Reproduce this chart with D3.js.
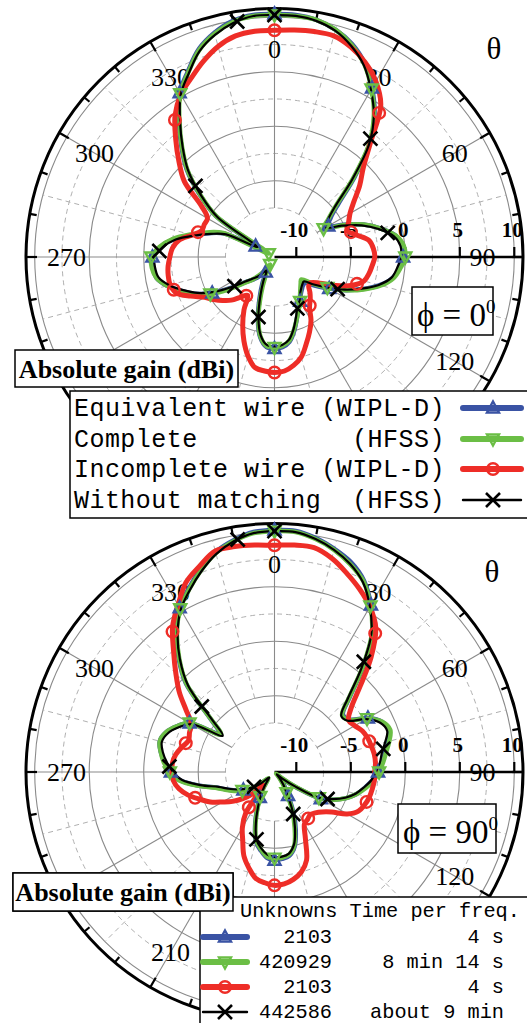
<!DOCTYPE html>
<html><head><meta charset="utf-8">
<script src="https://cdn.jsdelivr.net/npm/d3@7"></script>
<style>body{margin:0;background:#fff}svg{display:block}</style>
</head><body>
<svg id="chart" width="527" height="1023"></svg>
<script>
// ---------------- data ----------------
const angles = d3.range(0, 360, 5); // theta (deg), 0..355
const radialTicks = [-10, -5, 0, 5, 10];
const angleLabels = d3.range(0, 360, 30);

// phi = 0 cut (gain in dBi)
const top_equiv = [
  10.3, 10.3, 10.1, 9.6, 8.8, 7.6, 5.9, 4.0, 1.6, -1.6, -4.3, -5.7,
  -6.3, -5.0, -3.3, -1.9, -0.7, -0.2, -0.2, -0.5, -1.0, -2.0, -3.4, -4.8,
  -6.2, -7.4, -8.3, -8.3, -8.1, -7.8, -7.3, -6.8, -6.0, -5.0, -4.1, -3.7,
  -3.6, -3.7, -4.5, -6.1, -8.0, -9.4, -10.4, -10.1, -9.5, -9.0, -8.3, -7.0,
  -5.4, -4.0, -2.9, -1.8, -1.0, -0.8, -0.8, -1.5, -2.6, -4.2, -5.6, -6.9,
  -10.0, -5.4, -3.0, -0.6, 1.3, 3.3, 5.4, 6.8, 8.3, 9.3, 10.0, 10.3];
const top_complete = [
  10.2, 10.2, 10.1, 9.6, 8.7, 7.5, 5.8, 3.9, 1.5, -1.8, -4.6, -6.0,
  -6.8, -5.1, -3.3, -1.9, -0.7, -0.1, 0.0, -0.4, -0.9, -1.9, -3.3, -4.8,
  -6.4, -7.8, -8.8, -8.6, -8.3, -7.9, -7.3, -6.8, -6.0, -5.1, -4.2, -3.8,
  -3.7, -3.8, -4.6, -6.3, -8.4, -10.0, -11.2, -10.6, -9.8, -9.0, -8.2, -6.8,
  -5.2, -3.9, -2.8, -1.8, -1.0, -0.7, -0.7, -1.4, -2.5, -4.0, -5.4, -6.8,
  -11.4, -5.5, -3.1, -0.7, 1.2, 3.2, 5.3, 6.7, 8.2, 9.2, 9.9, 10.2];
const top_incomplete = [
  8.8, 8.9, 9.0, 9.0, 8.5, 7.7, 6.6, 5.0, 1.7, -0.5, -1.8, -3.1,
  -4.0, -4.5, -4.9, -4.2, -3.2, -2.9, -2.8, -3.0, -3.2, -3.5, -4.4, -5.8,
  -7.2, -7.9, -7.9, -7.4, -6.9, -6.4, -5.3, -4.4, -3.5, -2.5, -1.9, -1.5,
  -1.4, -1.5, -1.7, -2.6, -3.8, -5.1, -6.4, -7.7, -7.2, -6.4, -5.8, -5.2,
  -4.6, -3.5, -2.4, -2.1, -2.1, -2.2, -2.4, -2.6, -3.1, -4.2, -4.9, -4.9,
  -4.9, -3.8, -1.2, 0.4, 2.1, 3.9, 5.2, 6.1, 7.1, 8.0, 8.6, 8.8];
const top_nomatch = [
  10.2, 10.2, 10.0, 9.5, 8.6, 7.4, 5.7, 3.9, 1.5, -1.9, -4.7, -6.0,
  -6.6, -5.2, -3.5, -2.1, -0.9, -0.4, -0.4, -0.7, -1.1, -2.1, -3.5, -4.9,
  -6.4, -7.6, -8.5, -8.4, -8.2, -7.9, -7.4, -7.0, -6.2, -5.2, -4.3, -3.9,
  -3.8, -3.9, -4.7, -6.3, -8.2, -9.6, -10.6, -10.3, -9.7, -9.2, -8.5, -7.2,
  -5.6, -4.2, -3.1, -2.0, -1.2, -1.0, -1.0, -1.7, -2.8, -4.4, -5.8, -7.1,
  -10.2, -5.6, -3.2, -0.8, 1.1, 3.1, 5.2, 6.6, 8.1, 9.1, 9.8, 10.2];

// phi = 90 cut
const bot_equiv = [
  10.2, 10.2, 9.8, 9.2, 8.5, 7.4, 5.7, 3.7, 0.7, -2.2, -3.8, -3.6,
  -2.1, -1.1, -0.8, -1.2, -1.7, -2.1, -2.5, -3.0, -3.6, -4.2, -5.0, -6.0,
  -7.1, -9.4, -10.9, -11.5, -11.1, -10.4, -9.5, -7.9, -6.3, -4.9, -4.2, -4.0,
  -3.9, -4.1, -4.7, -5.4, -6.8, -8.2, -9.3, -10.2, -10.9, -11.1, -10.2, -9.3,
  -8.7, -8.0, -7.3, -6.5, -4.9, -3.3, -2.5, -1.9, -1.4, -1.1, -1.4, -2.1,
  -3.0, -5.9, -4.2, -0.5, 1.7, 3.7, 5.4, 6.6, 7.8, 8.9, 9.6, 10.1];
const bot_complete = [
  10.1, 10.1, 9.7, 9.1, 8.3, 7.3, 5.6, 3.6, 0.6, -2.3, -3.9, -3.7,
  -2.2, -1.1, -0.7, -1.1, -1.6, -2.0, -2.4, -2.9, -3.5, -4.2, -5.0, -6.0,
  -7.3, -9.6, -11.2, -11.8, -11.4, -10.7, -9.8, -8.2, -6.6, -5.0, -4.3, -4.1,
  -4.1, -4.2, -4.8, -5.5, -6.9, -8.3, -9.4, -10.3, -11.0, -11.2, -10.3, -9.3,
  -8.6, -7.9, -7.2, -6.4, -4.8, -3.2, -2.4, -1.8, -1.4, -1.1, -1.4, -2.1,
  -3.0, -6.0, -4.3, -0.6, 1.6, 3.6, 5.3, 6.5, 7.7, 8.8, 9.5, 10.0];
const bot_incomplete = [
  8.8, 8.9, 8.9, 8.3, 7.4, 6.5, 5.5, 4.2, 1.8, -0.9, -2.8, -3.7,
  -3.5, -3.1, -2.9, -2.8, -2.7, -2.7, -2.8, -2.8, -2.9, -3.0, -3.2, -3.5,
  -4.3, -5.6, -6.3, -6.7, -6.9, -6.7, -6.5, -5.3, -3.4, -2.5, -2.0, -1.7,
  -1.6, -1.8, -2.1, -2.9, -3.8, -5.1, -6.1, -7.4, -10.4, -9.2, -8.2, -7.3,
  -6.5, -5.5, -4.7, -3.8, -3.1, -2.7, -2.6, -2.6, -2.8, -3.2, -3.6, -3.4,
  -3.2, -2.1, -0.6, 0.8, 2.4, 4.3, 5.7, 7.2, 8.1, 9.0, 9.0, 8.9];
const bot_nomatch = [
  10.1, 10.1, 9.7, 9.1, 8.3, 7.2, 5.5, 3.5, 0.4, -2.5, -4.0, -3.8,
  -2.3, -1.3, -1.0, -1.5, -2.0, -2.3, -2.7, -3.1, -3.7, -4.3, -5.1, -6.1,
  -7.2, -9.7, -11.1, -11.7, -11.3, -10.6, -9.7, -8.1, -6.5, -5.1, -4.4, -4.2,
  -4.2, -4.4, -4.9, -5.6, -7.0, -8.4, -9.5, -10.4, -11.1, -11.3, -10.4, -9.5,
  -8.9, -8.2, -7.5, -6.7, -5.1, -3.5, -2.7, -2.1, -1.6, -1.3, -1.6, -2.3,
  -3.2, -6.2, -4.5, -0.8, 1.5, 3.5, 5.2, 6.4, 7.6, 8.7, 9.5, 10.0];

// marker angles (deg) for each series
const markEquiv = d3.range(0, 360, 30);
const markComplete = d3.range(0, 360, 30);
const markIncomplete = d3.range(0, 360, 36);
const markNomatch = d3.range(0, 360, 39);

const legendLabels = ["Equivalent wire (WIPL-D)", "Complete          (HFSS)",
                      "Incomplete wire (WIPL-D)", "Without matching  (HFSS)"];
const tableHeader = "Unknowns Time per freq.";
const unknowns = ["2103", "420929", "2103", "442586"];
const timesPerFreq = ["4 s", "8 min 14 s", "4 s", "about 9 min"];
const phiLabels = ["0", "90"];

// ---------------- styles ----------------
const SERIF = "Liberation Serif, Times New Roman, serif";
const MONO = "Liberation Mono, Courier New, monospace";
const styles = [
  {color: "#3A53A4", width: 4.5, marker: "up"},
  {color: "#6BBE45", width: 4.5, marker: "down"},
  {color: "#EE2D27", width: 5, marker: "circle"},
  {color: "#000000", width: 2.2, marker: "x"}
];
const markAngles = [markEquiv, markComplete, markIncomplete, markNomatch];

const svg = d3.select("#chart");
svg.append("rect").attr("width", 527).attr("height", 1023).attr("fill", "#fff");

const R = 248.5;
const rScale = d3.scaleLinear().domain([-12, 10.8]).range([0, R]);
const rad = d => d * Math.PI / 180;

function drawMarker(g, type, x, y, color) {
  if (type === "up") {
    g.append("path").attr("d", `M${x},${y-6.5}L${x+6},${y+4.5}L${x-6},${y+4.5}Z`)
      .attr("fill", "none").attr("stroke", color).attr("stroke-width", 2.4);
  } else if (type === "down") {
    g.append("path").attr("d", `M${x},${y+6.5}L${x+6},${y-4.5}L${x-6},${y-4.5}Z`)
      .attr("fill", "none").attr("stroke", color).attr("stroke-width", 2.4);
  } else if (type === "circle") {
    g.append("circle").attr("cx", x).attr("cy", y).attr("r", 5.8)
      .attr("fill", "none").attr("stroke", color).attr("stroke-width", 2.4);
  } else {
    const s = 7;
    g.append("path").attr("d", `M${x-s},${y-s}L${x+s},${y+s}M${x-s},${y+s}L${x+s},${y-s}`)
      .attr("fill", "none").attr("stroke", color).attr("stroke-width", 2.6);
  }
}

function interpGain(vals, deg) {
  const n = vals.length, step = 360 / n;
  const i = Math.floor(deg / step) % n, f = (deg - i * step) / step;
  return vals[i] * (1 - f) + vals[(i + 1) % n] * f;
}

function drawPlot(cx, cy, seriesVals, phiText, phiBox, absBox, thetaPos, hiddenLabels) {
  const g = svg.append("g").attr("transform", `translate(${cx},${cy})`);
  // grid circles
  [-7.5, -2.5, 2.5, 7.5].forEach(v => g.append("circle").attr("r", rScale(v))
    .attr("fill", "none").attr("stroke", "#b0b0b0").attr("stroke-width", 1).attr("stroke-dasharray", "5,4"));
  [-5, 0, 5, 10].forEach(v => g.append("circle").attr("r", rScale(v))
    .attr("fill", "none").attr("stroke", "#8a8a8a").attr("stroke-width", 1.1));
  // spokes
  d3.range(15, 360, 30).forEach(a => {
    const r0 = rScale(-5), r1 = rScale(10);
    g.append("line").attr("x1", r0 * Math.sin(rad(a))).attr("y1", -r0 * Math.cos(rad(a)))
      .attr("x2", r1 * Math.sin(rad(a))).attr("y2", -r1 * Math.cos(rad(a)))
      .attr("stroke", "#b0b0b0").attr("stroke-width", 1).attr("stroke-dasharray", "5,4");
  });
  d3.range(0, 360, 30).filter(a => a !== 90).forEach(a => {
    const r0 = rScale(-7.5), r1 = R;
    g.append("line").attr("x1", r0 * Math.sin(rad(a))).attr("y1", -r0 * Math.cos(rad(a)))
      .attr("x2", r1 * Math.sin(rad(a))).attr("y2", -r1 * Math.cos(rad(a)))
      .attr("stroke", "#8a8a8a").attr("stroke-width", 1.1);
  });
  // outer circle and ticks
  g.append("circle").attr("r", R).attr("fill", "none").attr("stroke", "#000").attr("stroke-width", 3);
  d3.range(0, 360, 10).forEach(a => {
    const len = a % 30 === 0 ? 11 : 7;
    g.append("line").attr("x1", R * Math.sin(rad(a))).attr("y1", -R * Math.cos(rad(a)))
      .attr("x2", (R - len) * Math.sin(rad(a))).attr("y2", -(R - len) * Math.cos(rad(a)))
      .attr("stroke", "#000").attr("stroke-width", 2.2);
  });
  // radial axis (theta = 90)
  g.append("line").attr("x1", 0).attr("y1", 0).attr("x2", R).attr("y2", 0)
    .attr("stroke", "#000").attr("stroke-width", 2.6);
  radialTicks.forEach(v => {
    g.append("line").attr("x1", rScale(v)).attr("x2", rScale(v)).attr("y1", 0).attr("y2", -10)
      .attr("stroke", "#000").attr("stroke-width", 2.2);
  });
  // angle labels
  angleLabels.filter(a => !hiddenLabels.includes(a)).forEach(a => {
    const rl = 208;
    g.append("text").attr("x", rl * Math.sin(rad(a))).attr("y", -rl * Math.cos(rad(a)) + 9)
      .attr("text-anchor", "middle").attr("font-family", SERIF).attr("font-size", 26)
      .attr("fill", "#000").text(a);
  });
  // radial labels
  radialTicks.forEach(v => {
    g.append("text").attr("x", rScale(v) - 2).attr("y", -20).attr("text-anchor", "middle")
      .attr("font-family", SERIF).attr("font-weight", "bold").attr("font-size", 21)
      .attr("fill", "#000").text(v);
  });
  // curves
  const line = d3.lineRadial().angle(d => rad(d[0])).radius(d => rScale(d[1]))
    .curve(d3.curveCatmullRomClosed.alpha(0.5));
  seriesVals.forEach((vals, k) => {
    const pts = angles.map((a, i) => [a, vals[i]]);
    g.append("path").attr("d", line(pts)).attr("fill", "none")
      .attr("stroke", styles[k].color).attr("stroke-width", styles[k].width)
      .attr("stroke-linejoin", "round");
  });
  seriesVals.forEach((vals, k) => {
    markAngles[k].forEach(a => {
      const r = rScale(interpGain(vals, a));
      drawMarker(g, styles[k].marker, r * Math.sin(rad(a)), -r * Math.cos(rad(a)), styles[k].color);
    });
  });
  // theta symbol
  svg.append("text").attr("x", thetaPos[0]).attr("y", thetaPos[1]).attr("text-anchor", "middle")
    .attr("font-family", SERIF).attr("font-size", 31).attr("fill", "#000").text("θ");
  // phi box
  svg.append("rect").attr("x", phiBox[0]).attr("y", phiBox[1]).attr("width", phiBox[2]).attr("height", phiBox[3])
    .attr("fill", "#fff").attr("stroke", "#000").attr("stroke-width", 1.5);
  const pt = svg.append("text").attr("x", phiBox[0] + 5).attr("y", phiBox[1] + 39)
    .attr("font-family", SERIF).attr("font-size", 33).attr("fill", "#000");
  pt.append("tspan").text("ϕ = " + phiText);
  pt.append("tspan").attr("font-size", 19).attr("dy", -13).text("0");
  // absolute gain box
  svg.append("rect").attr("x", absBox[0]).attr("y", absBox[1]).attr("width", absBox[2]).attr("height", absBox[3])
    .attr("fill", "#fff").attr("stroke", "#000").attr("stroke-width", 1.5);
  svg.append("text").attr("x", absBox[0] + absBox[2] / 2).attr("y", absBox[1] + 28)
    .attr("text-anchor", "middle").attr("font-family", SERIF).attr("font-weight", "bold")
    .attr("font-size", 26).attr("fill", "#000").text("Absolute gain (dBi)");
}

drawPlot(274.5, 257, [top_equiv, top_complete, top_incomplete, top_nomatch], phiLabels[0],
  [412, 287, 81, 48], [15, 350, 223, 37], [494, 59], [150, 180, 210, 240]);

// top legend
const lg = svg.append("g");
lg.append("rect").attr("x", 70).attr("y", 391).attr("width", 480).attr("height", 127)
  .attr("fill", "#fff").attr("stroke", "#000").attr("stroke-width", 1.5);
const legBase = [416, 447, 477, 508];
legendLabels.forEach((t, i) => {
  lg.append("text").attr("x", 74).attr("y", legBase[i])
    .style("white-space", "pre").attr("font-family", MONO).attr("font-size", 25)
    .attr("letter-spacing", 0.45).attr("fill", "#000").text(t);
  const ly = legBase[i] - 8;
  lg.append("line").attr("x1", 463).attr("x2", 521).attr("y1", ly).attr("y2", ly)
    .attr("stroke", styles[i].color).attr("stroke-width", i === 3 ? 2.4 : 6).attr("stroke-linecap", "round");
  drawMarker(lg, styles[i].marker, 493, ly, styles[i].color);
});

drawPlot(274.5, 772, [bot_equiv, bot_complete, bot_incomplete, bot_nomatch], phiLabels[1],
  [398, 804, 98, 49], [13, 873, 220, 38], [492, 582], [150, 180, 240]);

// bottom table legend
const tg = svg.append("g");
tg.append("rect").attr("x", 200).attr("y", 897).attr("width", 350).attr("height", 150)
  .attr("fill", "#fff").attr("stroke", "#000").attr("stroke-width", 1.5);
tg.append("text").attr("x", 240).attr("y", 917).style("white-space", "pre")
  .attr("font-family", MONO).attr("font-size", 20.3).attr("fill", "#000").text(tableHeader);
const rowBase = [943, 968, 993, 1018];
unknowns.forEach((u, i) => {
  const ly = rowBase[i] - 6;
  tg.append("line").attr("x1", 203).attr("x2", 247).attr("y1", ly).attr("y2", ly)
    .attr("stroke", styles[i].color).attr("stroke-width", i === 3 ? 2.4 : 6).attr("stroke-linecap", "round");
  drawMarker(tg, styles[i].marker, 225, ly, styles[i].color);
  tg.append("text").attr("x", 332).attr("y", rowBase[i]).attr("text-anchor", "end")
    .attr("font-family", MONO).attr("font-size", 20.3).attr("fill", "#000").text(u);
  tg.append("text").attr("x", 504).attr("y", rowBase[i]).attr("text-anchor", "end")
    .attr("font-family", MONO).attr("font-size", 20.3).attr("fill", "#000").text(timesPerFreq[i]);
});
// bottom abs-gain box drawn over the table corner
svg.append("rect").attr("x", 13).attr("y", 873).attr("width", 220).attr("height", 38)
  .attr("fill", "#fff").attr("stroke", "#000").attr("stroke-width", 1.5);
svg.append("text").attr("x", 123).attr("y", 901).attr("text-anchor", "middle").attr("font-family", SERIF)
  .attr("font-weight", "bold").attr("font-size", 26).attr("fill", "#000").text("Absolute gain (dBi)");
</script>
</body></html>
